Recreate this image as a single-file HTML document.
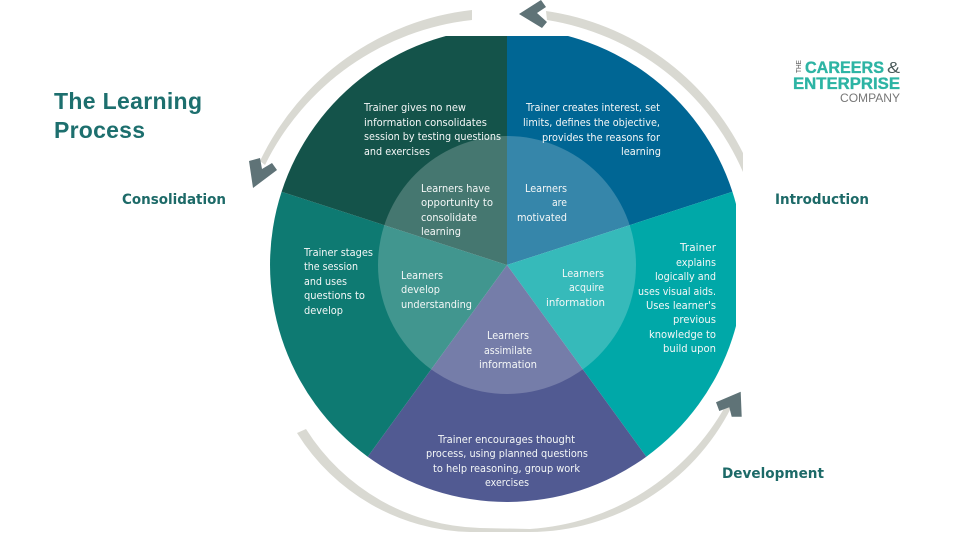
<!DOCTYPE html>
<html><head><meta charset="utf-8"><style>
html,body{margin:0;padding:0;background:#fff}
svg{display:block}
.t{font-family:"DejaVu Sans","Liberation Sans",sans-serif;font-size:10.4px;fill:#f4f7f7}
.l{font-family:"DejaVu Sans","Liberation Sans",sans-serif;font-size:14.5px;font-weight:bold;fill:#1d6a68}
.h{font-family:"Liberation Sans",sans-serif;font-size:23px;font-weight:bold;fill:#1d6f6e}
.g{font-family:"Liberation Sans",sans-serif;font-weight:bold;fill:#2db4a4;stroke:#2db4a4;stroke-width:.35}
</style></head><body>
<svg width="960" height="540" viewBox="0 0 960 540" xmlns="http://www.w3.org/2000/svg">
<defs><clipPath id="c"><rect x="0" y="36" width="736" height="504"/></clipPath></defs>
<g clip-path="url(#c)">
<path d="M507 265L507 28A237 237 0 0 1 732.4 191.8Z" fill="#006694"/>
<path d="M507 265L732.4 191.8A237 237 0 0 1 646.3 456.7Z" fill="#00a8a8"/>
<path d="M507 265L646.3 456.7A237 237 0 0 1 367.7 456.7Z" fill="#515a92"/>
<path d="M507 265L367.7 456.7A237 237 0 0 1 281.6 191.8Z" fill="#0e7a72"/>
<path d="M507 265L281.6 191.8A237 237 0 0 1 507 28Z" fill="#14534a"/>
</g>
<circle cx="507" cy="265" r="129" fill="#fff" fill-opacity="0.21"/>
<g fill="#d9d9d2">
<path d="M472 10A268 268 0 0 0 260 161L265 165A262 262 0 0 1 472 20Z"/>
<path d="M546 11A262 262 0 0 1 743 153L743 172A258 258 0 0 0 547 20Z"/>
<path d="M297 433A210 210 0 0 0 470 532L530 532A227 227 0 0 0 731 408L726 405A242 242 0 0 1 530 529L480 528A212 212 0 0 1 306 429Z"/>
</g>
<g fill="#5f7377">
<polygon points="249,161 260,158 262,169 272,163 277,170 253,188"/>
<polygon points="519,14 541,0 546,7 537,13 547,22 542,28"/>
<polygon points="740.7,391.7 741.7,416.7 731.7,416.7 729.3,407.3 719.3,411 716,402.3"/>
</g>
<text class="t" x="364" y="111" textLength="102" lengthAdjust="spacingAndGlyphs">Trainer gives no new</text>
<text class="t" x="364" y="126" textLength="123" lengthAdjust="spacingAndGlyphs">information consolidates</text>
<text class="t" x="364" y="140" textLength="137" lengthAdjust="spacingAndGlyphs">session by testing questions</text>
<text class="t" x="364" y="155" textLength="66" lengthAdjust="spacingAndGlyphs">and exercises</text>
<text class="t" x="526" y="111" textLength="134" lengthAdjust="spacingAndGlyphs">Trainer creates interest, set</text>
<text class="t" x="523" y="126" textLength="137" lengthAdjust="spacingAndGlyphs">limits, defines the objective,</text>
<text class="t" x="542" y="141" textLength="118" lengthAdjust="spacingAndGlyphs">provides the reasons for</text>
<text class="t" x="621" y="155" textLength="40" lengthAdjust="spacingAndGlyphs">learning</text>
<text class="t" x="421" y="192" textLength="69" lengthAdjust="spacingAndGlyphs">Learners have</text>
<text class="t" x="421" y="206" textLength="72" lengthAdjust="spacingAndGlyphs">opportunity to</text>
<text class="t" x="421" y="221" textLength="56" lengthAdjust="spacingAndGlyphs">consolidate</text>
<text class="t" x="421" y="235" textLength="40" lengthAdjust="spacingAndGlyphs">learning</text>
<text class="t" x="525" y="192" textLength="42" lengthAdjust="spacingAndGlyphs">Learners</text>
<text class="t" x="552" y="206" textLength="15" lengthAdjust="spacingAndGlyphs">are</text>
<text class="t" x="517" y="221" textLength="50" lengthAdjust="spacingAndGlyphs">motivated</text>
<text class="t" x="562" y="277" textLength="42" lengthAdjust="spacingAndGlyphs">Learners</text>
<text class="t" x="569" y="291" textLength="35" lengthAdjust="spacingAndGlyphs">acquire</text>
<text class="t" x="546" y="306" textLength="59" lengthAdjust="spacingAndGlyphs">information</text>
<text class="t" x="487" y="339" textLength="42" lengthAdjust="spacingAndGlyphs">Learners</text>
<text class="t" x="484" y="354" textLength="48" lengthAdjust="spacingAndGlyphs">assimilate</text>
<text class="t" x="479" y="368" textLength="58" lengthAdjust="spacingAndGlyphs">information</text>
<text class="t" x="401" y="279" textLength="42" lengthAdjust="spacingAndGlyphs">Learners</text>
<text class="t" x="401" y="293" textLength="39" lengthAdjust="spacingAndGlyphs">develop</text>
<text class="t" x="401" y="308" textLength="71" lengthAdjust="spacingAndGlyphs">understanding</text>
<text class="t" x="304" y="256" textLength="69" lengthAdjust="spacingAndGlyphs">Trainer stages</text>
<text class="t" x="304" y="270" textLength="54" lengthAdjust="spacingAndGlyphs">the session</text>
<text class="t" x="304" y="285" textLength="43" lengthAdjust="spacingAndGlyphs">and uses</text>
<text class="t" x="304" y="299" textLength="61" lengthAdjust="spacingAndGlyphs">questions to</text>
<text class="t" x="304" y="314" textLength="39" lengthAdjust="spacingAndGlyphs">develop</text>
<text class="t" x="680" y="251" textLength="36" lengthAdjust="spacing">Trainer</text>
<text class="t" x="676" y="266" textLength="40" lengthAdjust="spacingAndGlyphs">explains</text>
<text class="t" x="655" y="280" textLength="61" lengthAdjust="spacingAndGlyphs">logically and</text>
<text class="t" x="638" y="295" textLength="78" lengthAdjust="spacingAndGlyphs">uses visual aids.</text>
<text class="t" x="646" y="309" textLength="70" lengthAdjust="spacingAndGlyphs">Uses learner's</text>
<text class="t" x="673" y="323" textLength="43" lengthAdjust="spacingAndGlyphs">previous</text>
<text class="t" x="649" y="338" textLength="67" lengthAdjust="spacingAndGlyphs">knowledge to</text>
<text class="t" x="663" y="352" textLength="53" lengthAdjust="spacingAndGlyphs">build upon</text>
<text class="t" x="438" y="443" textLength="137" lengthAdjust="spacingAndGlyphs">Trainer encourages thought</text>
<text class="t" x="426" y="457" textLength="162" lengthAdjust="spacingAndGlyphs">process, using planned questions</text>
<text class="t" x="433" y="472" textLength="147" lengthAdjust="spacingAndGlyphs">to help reasoning, group work</text>
<text class="t" x="485" y="486" textLength="44" lengthAdjust="spacingAndGlyphs">exercises</text>
<text class="l" x="122" y="204" textLength="104" lengthAdjust="spacingAndGlyphs">Consolidation</text>
<text class="l" x="775" y="204" textLength="94" lengthAdjust="spacingAndGlyphs">Introduction</text>
<text class="l" x="722" y="478" textLength="102" lengthAdjust="spacingAndGlyphs">Development</text>
<text class="h" x="54" y="109" textLength="148" lengthAdjust="spacing">The Learning</text>
<text class="h" x="54" y="138" textLength="91" lengthAdjust="spacing">Process</text>
<text class="g" x="805" y="73" font-size="16.5" textLength="79" lengthAdjust="spacingAndGlyphs">CAREERS</text>
<text x="887" y="73" font-family="Liberation Sans,sans-serif" font-size="16" fill="#4a5a5a" textLength="13" lengthAdjust="spacingAndGlyphs">&amp;</text>
<text class="g" x="793" y="89" font-size="16.5" textLength="107" lengthAdjust="spacingAndGlyphs">ENTERPRISE</text>
<text x="840" y="102" font-family="Liberation Sans,sans-serif" font-size="12" fill="#777" textLength="60" lengthAdjust="spacingAndGlyphs">COMPANY</text>
<text transform="translate(801 73) rotate(-90)" font-family="Liberation Sans,sans-serif" font-size="7" fill="#555" textLength="13" lengthAdjust="spacingAndGlyphs">THE</text>
</svg>
</body></html>
